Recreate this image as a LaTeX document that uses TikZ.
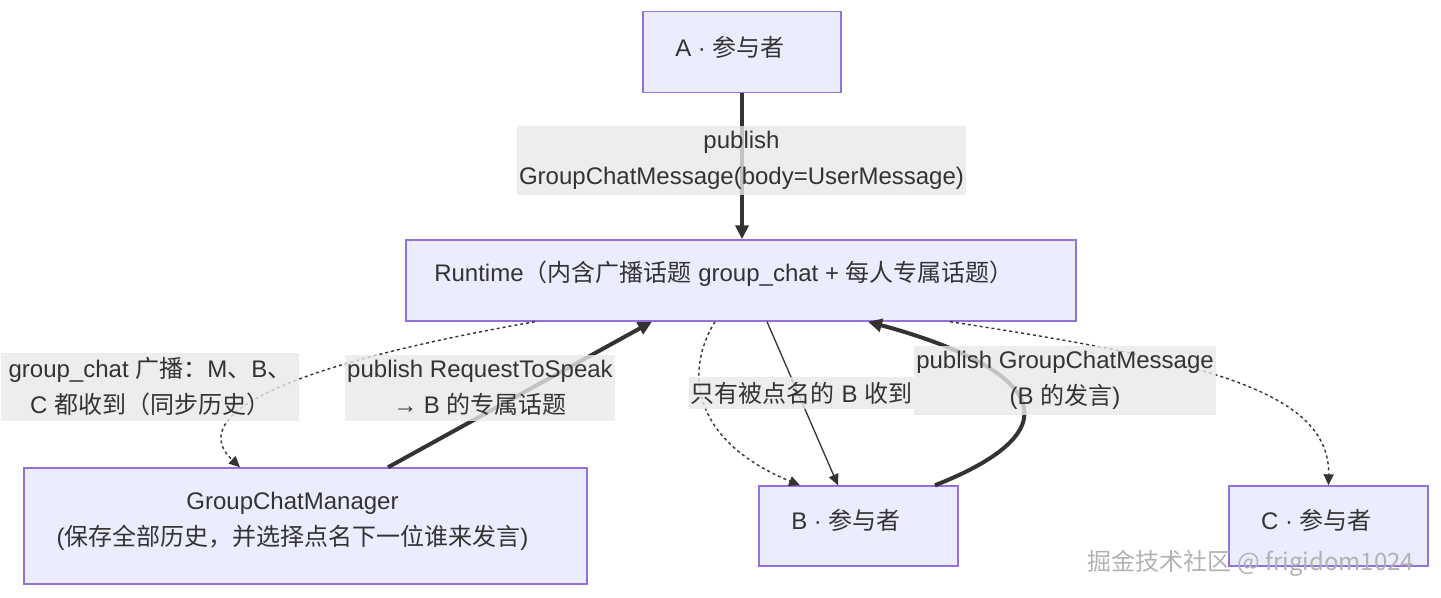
\documentclass[tikz,border=0pt]{standalone}
\usepackage{fontspec}
\setmainfont{Liberation Sans}
\newfontfamily\cjk{Noto Sans CJK SC}
\newcommand{\zh}[1]{{\cjk #1}}
\usetikzlibrary{arrows.meta}
\definecolor{boxfill}{HTML}{ECECFF}
\definecolor{boxline}{HTML}{9370DB}
\definecolor{ink}{HTML}{333333}
\definecolor{lblfill}{HTML}{E8E8E8}
\tikzset{
  box/.style={draw=boxline, fill=boxfill, line width=0.7pt},
  boxtext/.style={align=center, text=ink},
  lbl/.style={fill=lblfill, fill opacity=0.8, text opacity=1, align=center, inner xsep=1pt, inner ysep=2.5pt, text=ink},
  heavy/.style={draw=ink, line width=2pt, -{Triangle[length=7pt,width=6.5pt]}},
  direct/.style={draw=ink, line width=0.65pt, -{Triangle[length=5.5pt,width=5pt]}},
  bcast/.style={draw=ink, line width=0.7pt, dash pattern=on 1.5pt off 1.5pt, -{Triangle[length=5.5pt,width=5pt]}}
}
\begin{document}
\begin{tikzpicture}[x=0.5pt, y=-0.5pt, font=\fontsize{12}{18}\selectfont]
            \useasboundingbox (0,0) rectangle (1441,598);

            \node[box, minimum width=99pt, minimum height=40.5pt] (a) at (742,52) {};
            \node[box, minimum width=335pt, minimum height=40.5pt] (rt) at (741,280.5) {};
            \node[box, minimum width=281.5pt, minimum height=58pt] (gcm) at (305.5,526) {};
            \node[box, minimum width=99.5pt, minimum height=40pt] (b) at (858.5,526) {};
            \node[box, minimum width=99.5pt, minimum height=40pt] (c) at (1328.5,526) {};

            \node[boxtext] (at) at ([xshift=-6pt, yshift=2.5pt]a.center) {A · \zh{参与者}};
            \node[boxtext] (rtt) at ([xshift=-8.5pt, yshift=3.5pt]rt.center) {Runtime\zh{（内含广播话题} group\_chat + \zh{每人专属话题）}};
            \node[boxtext] (gcmt) at ([xshift=-6.5pt, yshift=2.5pt]gcm.center) {GroupChatManager\\(\zh{保存全部历史，并选择点名下一位谁来发言})};
            \node[boxtext] (bt) at ([xshift=-6.25pt, yshift=3pt]b.center) {B · \zh{参与者}};
            \node[boxtext] (ct) at ([xshift=-6pt, yshift=3pt]c.center) {C · \zh{参与者}};

            \draw[heavy] (a.south) -- (a.south |- rt.north);
            \draw[bcast] ([xshift=-103pt]rt.south) .. controls (260,370) and (190,420) .. ([xshift=-32.75pt]gcm.north);
            \draw[heavy] ([xshift=41.25pt]gcm.north) -- ([xshift=-44.5pt]rt.south);
            \draw[bcast] ([xshift=-13pt]rt.south) .. controls (685,370) and (690,440) .. ([xshift=-29.25pt]b.north);
            \draw[direct] ([xshift=13pt]rt.south) -- ([xshift=-10.25pt]b.north);
            \draw[heavy] ([xshift=38.25pt]b.north) .. controls (1100,420) and (1010,360) .. ([xshift=63.5pt]rt.south);
            \draw[bcast] ([xshift=104.5pt]rt.south) .. controls (1200,360) and (1330,390) .. (c.north);

            \node[lbl] (la) at (741.5,160.5) {publish\\GroupChatMessage(body=UserMessage)};
            \node[lbl, inner xsep=4pt] (lg) at (150,387) {group\_chat \zh{广播：}M\zh{、}B\zh{、}\\C \zh{都收到（同步历史）}};
            \node[lbl] (lr) at (480,388) {publish RequestToSpeak\\→ B \zh{的专属话题}};
            \node[lbl] (lb) at (801.5,393) {\zh{只有被点名的} B \zh{收到}};
            \node[lbl] (lm) at (1065,380.5) {publish GroupChatMessage\\(B \zh{的发言})};

            \node[text=gray!60] (wm) at (1251,563) {\cjk 掘金技术社区 @ frigidom1024};
          \end{tikzpicture}
\end{document}
